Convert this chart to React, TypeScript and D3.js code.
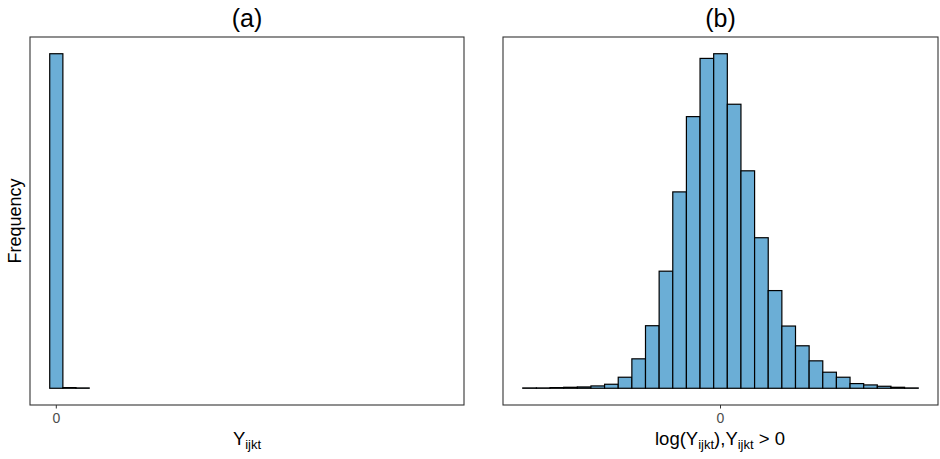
import React from 'react'
import * as d3 from 'd3'

const W = 940
const H = 459

// panel (a): raw counts, one bin per unit, first bin centred on 0
const centersA = [0, 1, 2, 3, 4, 5, 6, 7, 8, 9, 10, 11, 12, 13, 14, 15, 16, 17, 18, 19, 20, 21, 22, 23, 24, 25, 26, 27, 28, 29]
const countsA = [1000, 2, 1, 0, 0, 0, 0, 0, 0, 0, 0, 0, 0, 0, 0, 0, 0, 0, 0, 0, 0, 0, 0, 0, 0, 0, 0, 0, 0, 0]

// panel (b): log of positive counts
const centersB = [-14, -13, -12, -11, -10, -9, -8, -7, -6, -5, -4, -3, -2, -1, 0, 1, 2, 3, 4, 5, 6, 7, 8, 9, 10, 11, 12, 13, 14]
const countsB = [1, 1, 2, 3, 4, 7, 12, 33, 88, 187, 350, 587, 812, 986, 1000, 849, 650, 450, 292, 186, 127, 82, 48, 33, 14, 10, 6, 3, 1]

const ticksA = [0]
const ticksB = [0]
const titles = ['(a)', '(b)']

const FONT = "'Liberation Sans', Arial, sans-serif"
const FILL = '#6baed6'

function Panel(props: {
  left: number
  right: number
  top: number
  bottom: number
  centers: number[]
  counts: number[]
  ticks: number[]
  title: string
}) {
  const {left, right, top, bottom, centers, counts, ticks, title} = props
  const lo = (d3.min(centers) as number) - 0.5
  const hi = (d3.max(centers) as number) + 0.5
  const pad = (hi - lo) * 0.05
  const x = d3.scaleLinear().domain([lo - pad, hi + pad]).range([left, right])
  const maxC = d3.max(counts) as number
  const y = d3.scaleLinear().domain([-0.05 * maxC, 1.05 * maxC]).range([bottom, top])
  const mid = (left + right) / 2

  return (
    <g>
      <text x={mid} y={27} textAnchor="middle" fontSize={25} fontFamily={FONT} fill="#000">
        {title}
      </text>
      {centers.map((c, i) => (
        <rect
          key={i}
          x={x(c - 0.5)}
          y={y(counts[i])}
          width={x(c + 0.5) - x(c - 0.5)}
          height={y(0) - y(counts[i])}
          fill={FILL}
          stroke="#000"
          strokeWidth={1.2}
        />
      ))}
      <rect x={left} y={top} width={right - left} height={bottom - top} fill="none" stroke="#333" strokeWidth={1.1} />
      {ticks.map((t) => (
        <g key={t}>
          <line x1={x(t)} x2={x(t)} y1={bottom} y2={bottom + 3.5} stroke="#333" strokeWidth={1} />
          <text x={x(t)} y={423} textAnchor="middle" fontSize={14} fontFamily={FONT} fill="#4d4d4d">
            {t}
          </text>
        </g>
      ))}
    </g>
  )
}

export default function App() {
  return (
    <svg width={W} height={H} style={{position: 'absolute', left: 0, top: 0, background: '#fff'}}>
      <rect width={W} height={H} fill="#fff" />
      <Panel left={30} right={464} top={37} bottom={405} centers={centersA} counts={countsA} ticks={ticksA} title={titles[0]} />
      <Panel left={503} right={938} top={37} bottom={405} centers={centersB} counts={countsB} ticks={ticksB} title={titles[1]} />

      <text transform="translate(21,221) rotate(-90)" textAnchor="middle" fontSize={18} fontFamily={FONT} fill="#000">
        Frequency
      </text>

      <text x={247} y={445} textAnchor="middle" fontSize={18.5} fontFamily={FONT} fill="#000">
        Y<tspan fontSize={13} dy={3.5}>ijkt</tspan>
      </text>

      <text x={720} y={445} textAnchor="middle" fontSize={18.5} fontFamily={FONT} fill="#000">
        log(Y<tspan fontSize={13} dy={3.5}>ijkt</tspan>
        <tspan dy={-3.5}>),Y</tspan>
        <tspan fontSize={13} dy={3.5}>ijkt</tspan>
        <tspan dy={-3.5}> &gt; 0</tspan>
      </text>
    </svg>
  )
}
